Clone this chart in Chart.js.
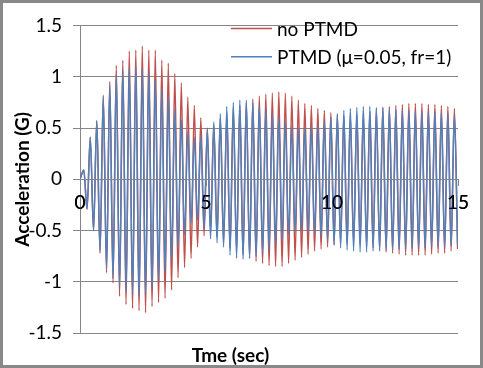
<!DOCTYPE html>
<html>
<head>
<meta charset="utf-8">
<script src="https://cdn.jsdelivr.net/npm/chart.js@4/dist/chart.umd.min.js"></script>
<style>
  html, body { margin: 0; padding: 0; background: #fff; }
  #box { width: 477px; height: 362px; border: 3px solid #898989; position: relative; }
  #box canvas { display: block; }
</style>
</head>
<body>
<div id="box"><canvas id="chart" width="477" height="362"></canvas></div>
<script>
// sampling of the extremes: first peak at 0.15 s, one extreme every half period
const t0 = 0.15;
const halfPeriod = 0.129;

const seriesNames = ['no PTMD', 'PTMD (\u03bc=0.05, fr=1)'];

// acceleration at successive peaks / troughs (G)
const noPtmd = [
   0.09, -0.29,  0.41, -0.50,  0.57, -0.72,  0.82, -0.91,  0.95, -1.01,
   1.11, -1.14,  1.16, -1.22,  1.25, -1.26,  1.26, -1.28,  1.30, -1.30,
   1.26, -1.24,  1.26, -1.20,  1.16, -1.16,  1.13, -1.08,  1.03, -0.96,
   0.94, -0.86,  0.80, -0.77,  0.72, -0.66,  0.60, -0.55,  0.50, -0.50,
   0.53, -0.56,  0.59, -0.62,  0.64, -0.67,  0.69, -0.70,  0.72, -0.74,
   0.75, -0.77,  0.78, -0.80,  0.81, -0.82,  0.83, -0.84,  0.84, -0.85,
   0.85, -0.85,  0.84, -0.82,  0.81, -0.79,  0.77, -0.76,  0.74, -0.73,
   0.72, -0.70,  0.69, -0.68,  0.67, -0.66,  0.65, -0.64,  0.63, -0.62,
   0.62, -0.62,  0.62, -0.62,  0.63, -0.63,  0.64, -0.65,  0.66, -0.67,
   0.68, -0.69,  0.70, -0.71,  0.71, -0.72,  0.72, -0.73,  0.73, -0.74,
   0.74, -0.74,  0.74, -0.74,  0.74, -0.74,  0.73, -0.73,  0.73, -0.72,
   0.72, -0.72,  0.71, -0.70,  0.69, -0.68
];

const withPtmd = [
   0.09, -0.29,  0.41, -0.50,  0.57, -0.70,  0.80, -0.87,  0.92, -0.97,
   1.02, -1.04,  1.06, -1.09,  1.08, -1.12,  1.10, -1.14,  1.08, -1.12,
   1.04, -1.06,  0.97, -0.98,  0.88, -0.90,  0.80, -0.78,  0.68, -0.66,
   0.58, -0.54,  0.46, -0.43,  0.41, -0.40,  0.42, -0.48,  0.48, -0.58,
   0.56, -0.62,  0.64, -0.66,  0.71, -0.74,  0.75, -0.77,  0.77, -0.78,
   0.77, -0.77,  0.75, -0.75,  0.72, -0.72,  0.68, -0.68,  0.64, -0.63,
   0.60, -0.59,  0.56, -0.54,  0.52, -0.51,  0.50, -0.50,  0.50, -0.51,
   0.51, -0.53,  0.53, -0.56,  0.57, -0.60,  0.61, -0.64,  0.64, -0.67,
   0.67, -0.69,  0.69, -0.70,  0.70, -0.71,  0.71, -0.71,  0.71, -0.70,
   0.70, -0.70,  0.70, -0.69,  0.69, -0.69,  0.68, -0.68,  0.67, -0.68,
   0.67, -0.67,  0.66, -0.67,  0.66, -0.67,  0.66, -0.66,  0.66, -0.66,
   0.65, -0.66,  0.64, -0.65,  0.63, -0.64
];

const xTicks = [0, 5, 10, 15];
const yTicks = [-1.5, -1, -0.5, 0, 0.5, 1, 1.5];

function toPoints(values) {
  const pts = [{ x: 0, y: 0 }];
  values.forEach((v, i) => pts.push({ x: t0 + i * halfPeriod, y: v }));
  return pts;
}

const axisGray = '#868686';
Chart.defaults.font.family = 'Lato';
Chart.defaults.font.size = 19;
Chart.defaults.color = '#000';

// legend drawn inside the plot, top right, two rows;
// the x axis is drawn again so its labels sit on top of the traces
const innerLegend = {
  id: 'innerLegend',
  afterDatasetsDraw(chart) {
    chart.scales.x.draw(chart.chartArea);
    const ctx = chart.ctx;
    const rows = [25.5, 53.7];
    ctx.save();
    ctx.font = '19px Lato';
    ctx.textBaseline = 'middle';
    ctx.fillStyle = '#000';
    chart.data.datasets.forEach((ds, i) => {
      const y = rows[i];
      ctx.strokeStyle = ds.borderColor;
      ctx.lineWidth = 1.5;
      ctx.beginPath();
      ctx.moveTo(228, y);
      ctx.lineTo(269, y);
      ctx.stroke();
      ctx.fillText(ds.label, 274, y + 1);
    });
    ctx.restore();
  }
};

new Chart(document.getElementById('chart').getContext('2d'), {
  type: 'line',
  data: {
    datasets: [{
      label: seriesNames[0],
      data: toPoints(noPtmd),
      borderColor: '#C0504D',
      borderWidth: 1.5,
      pointRadius: 0,
      cubicInterpolationMode: 'monotone',
      order: 2
    }, {
      label: seriesNames[1],
      data: toPoints(withPtmd),
      borderColor: '#4F81BD',
      borderWidth: 1.5,
      pointRadius: 0,
      cubicInterpolationMode: 'monotone',
      order: 1
    }]
  },
  options: {
    responsive: false,
    animation: false,
    layout: { padding: { top: 16, right: 22, bottom: 0, left: 0 } },
    plugins: {
      legend: { display: false },
      tooltip: { enabled: false },
      title: {
        display: true,
        position: 'bottom',
        text: 'Tme (sec)',
        font: { size: 19, weight: 'bold' },
        padding: { top: 11, bottom: -2 }
      }
    },
    scales: {
      x: {
        type: 'linear',
        position: { y: 0 },
        min: 0,
        max: 15,
        afterBuildTicks: (scale) => { scale.ticks = xTicks.map(v => ({ value: v })); },
        ticks: { padding: 6, maxRotation: 0, autoSkip: false },
        grid: { drawOnChartArea: false, tickLength: 6, color: axisGray },
        border: { color: axisGray, width: 1 }
      },
      y: {
        min: -1.5,
        max: 1.5,
        afterBuildTicks: (scale) => { scale.ticks = yTicks.map(v => ({ value: v })); },
        afterFit: (scale) => { scale.width = 77; },
        ticks: { padding: 11, callback: (v) => String(v) },
        grid: { color: axisGray, tickLength: 7 },
        border: { color: axisGray, width: 1 },
        title: {
          display: true,
          text: 'Acceleration (G)',
          font: { size: 19, weight: 'bold' },
          padding: { top: 8, bottom: 0 }
        }
      }
    }
  },
  plugins: [innerLegend]
});
</script>
</body>
</html>
